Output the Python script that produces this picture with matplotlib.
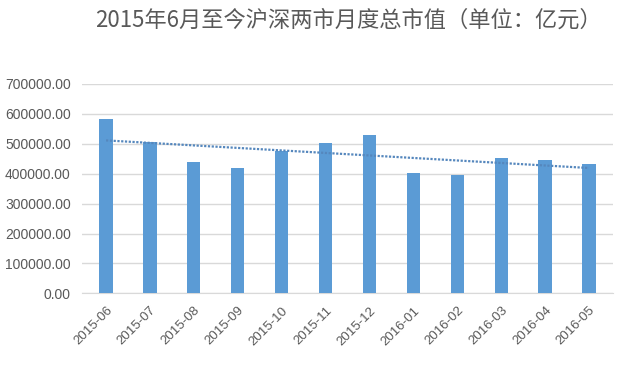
import numpy as np
import matplotlib
matplotlib.use('Agg')
import matplotlib.pyplot as plt

plt.rcParams['font.family'] = ['Noto Sans CJK SC', 'DejaVu Sans']

# 月份与月度总市值（亿元）
meses = ['2015-06', '2015-07', '2015-08', '2015-09', '2015-10', '2015-11',
         '2015-12', '2016-01', '2016-02', '2016-03', '2016-04', '2016-05']
valores = [583000, 505000, 438000, 419000, 477000, 503000,
           529500, 402000, 396000, 453500, 447000, 431000]
titulo = '2015年6月至今沪深两市月度总市值（单位：亿元）'

x = np.arange(len(meses))
# linea de tendencia lineal
coef = np.polyfit(x, valores, 1)
tendencia = np.polyval(coef, x)

fig = plt.figure(figsize=(6.4, 3.7), dpi=100)
ax = fig.add_axes([0.128, 0.207, 0.83, 0.566])

azul = '#5b9bd5'
gris = '#595959'
fuente = ['Liberation Sans', 'DejaVu Sans']
ax.bar(x, valores, width=0.3, color=azul, zorder=3)
ax.plot(x, tendencia, color='#5587bd', linestyle=(0, (1, 0.7)), linewidth=1.6, zorder=4)

ax.set_xlim(-0.55, len(meses) - 0.45)
ax.set_ylim(0, 700000)
ax.set_yticks(np.arange(0, 700001, 100000))
ax.set_yticklabels([f'{v:.2f}' for v in np.arange(0, 700001, 100000)],
                   fontsize=10, color=gris, family=fuente)
ax.set_xticks(x)
ax.set_xticklabels(meses, rotation=45, ha='right', rotation_mode='anchor',
                   fontsize=9.5, color=gris, family=fuente)
ax.tick_params(axis='y', length=0, pad=8)
ax.tick_params(axis='x', length=0, pad=8)
ax.grid(axis='y', color='#d9d9d9', linewidth=1, zorder=0)
for lado in ['top', 'right', 'left']:
    ax.spines[lado].set_visible(False)
ax.spines['bottom'].set_color('#d9d9d9')

fig.text(0.545, 0.945, titulo, ha='center', va='center', fontsize=16, color=gris)

fig.savefig('out.png', dpi=100)
